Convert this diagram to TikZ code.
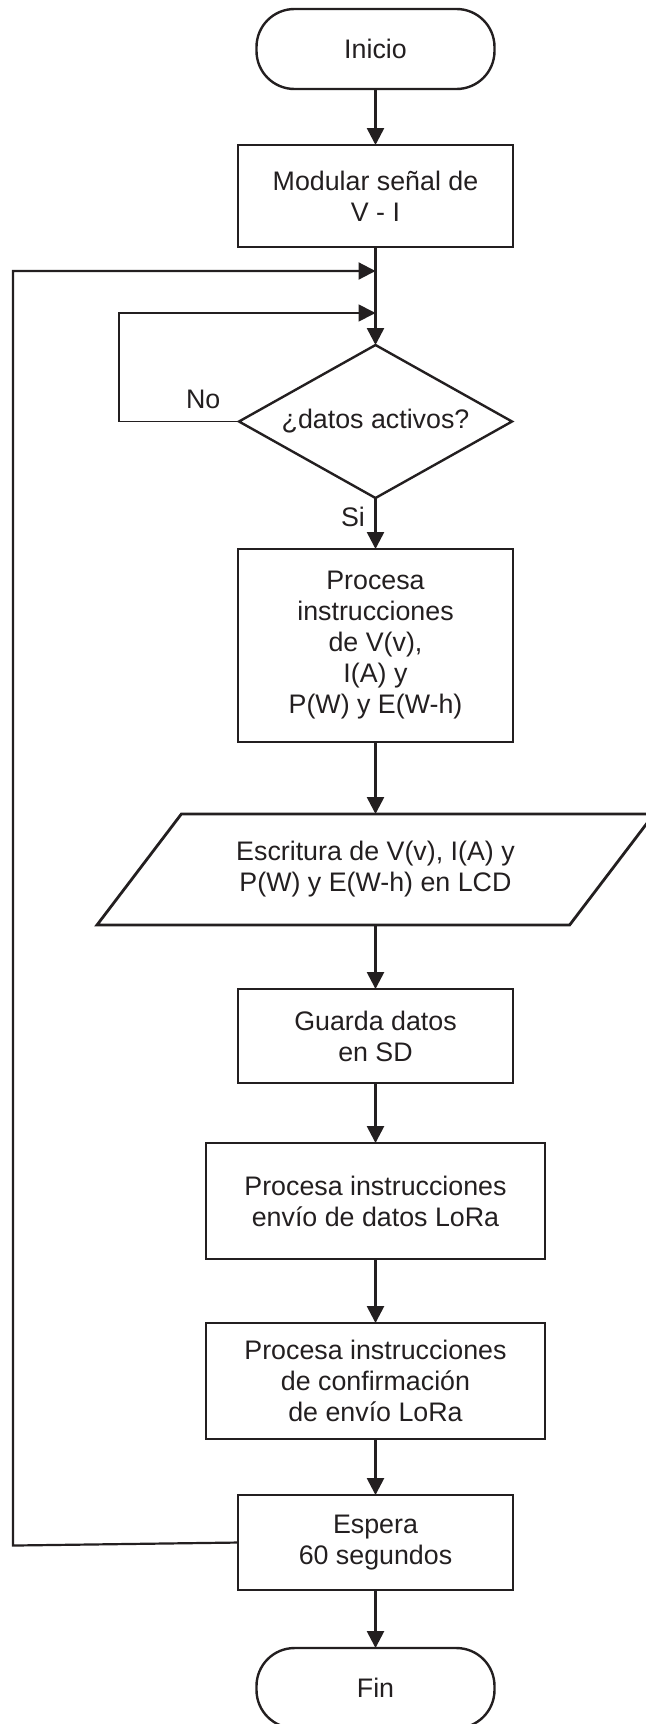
\documentclass[tikz,border=0pt]{standalone}
\usepackage{fontspec}
\setmainfont{Liberation Sans}
\usepackage{tikz}
\usetikzlibrary{arrows.meta,positioning,shapes.geometric}
\definecolor{trazo}{HTML}{231F20}

\begin{document}
\begin{tikzpicture}[
    every node/.style={font=\fontsize{13.4}{15.5}\selectfont, align=center, text=trazo, outer sep=0pt},
    terminal/.style={draw=trazo, line width=1.2pt, rounded corners=19pt, minimum width=119pt, minimum height=40pt},
    proceso/.style={draw=trazo, line width=1.4pt, minimum width=137.5pt},
    decision/.style={draw=trazo, line width=1.2pt, diamond, aspect=1.78, minimum width=136.5pt, minimum height=76.5pt, inner sep=0pt},
    entrada/.style={draw=trazo, line width=1.4pt, trapezium, trapezium left angle=39.4, trapezium right angle=140.6, trapezium stretches body, minimum width=278.5pt, minimum height=55.5pt},
    flecha/.style={draw=trazo, line width=1.3pt, -{Triangle[length=8.5pt, width=8.5pt]}}
]
    \useasboundingbox (0,0) rectangle (322.5pt,-862pt);

    \node[terminal] (inicio) at (187.75pt,-24.5pt) {Inicio};
    \node[proceso, minimum height=51pt, below=28pt of inicio] (modular) {Modular señal de\\V - I};
    \node[decision, below=49pt of modular] (datos) {¿datos activos?};
    \node[proceso, minimum height=96.5pt, below=25.5pt of datos] (procesa) {Procesa\\instrucciones\\de V(v),\\I(A) y\\P(W) y E(W-h)};
    \node[entrada, below=36pt of procesa] (escritura) {Escritura de V(v), I(A) y\\P(W) y E(W-h) en LCD};
    \node[proceso, minimum height=47pt, below=32pt of escritura] (guarda) {Guarda datos\\en SD};
    \node[proceso, minimum width=169.5pt, minimum height=58pt, below=30pt of guarda] (envio) {Procesa instrucciones\\envío de datos LoRa};
    \node[proceso, minimum width=169.5pt, minimum height=58pt, below=32pt of envio] (confirma) {Procesa instrucciones\\de confirmación\\de envío LoRa};
    \node[proceso, minimum height=47.5pt, below=28pt of confirma] (espera) {Espera\\60 segundos};
    \node[terminal, below=29pt of espera] (fin) {Fin};

    % puntos de retorno sobre la linea principal
    \coordinate[below=12pt of modular] (juntaext);
    \coordinate[below=33pt of modular] (juntaint);

    \draw[flecha] (inicio) -- (modular);
    \draw[flecha] (modular) -- (datos);
    \draw[flecha] (datos) -- node[left, pos=0.38, xshift=-2pt] (si) {Si} (procesa);
    \draw[flecha] (procesa) -- (escritura);
    \draw[flecha] (escritura) -- (guarda);
    \draw[flecha] (guarda) -- (envio);
    \draw[flecha] (envio) -- (confirma);
    \draw[flecha] (confirma) -- (espera);
    \draw[flecha] (espera) -- (fin);

    % lazo "No"
    \draw[flecha, line width=0.9pt] (datos.west) -- ++(-60pt,0) |- (juntaint);
    \node[above left=3pt and 6pt of datos.west] (no) {No};

    % lazo de retorno desde Espera
    \draw[flecha, line width=1.1pt] (espera.west) -- ++(-112.5pt,-1.5pt) |- (juntaext);
\end{tikzpicture}
\end{document}
